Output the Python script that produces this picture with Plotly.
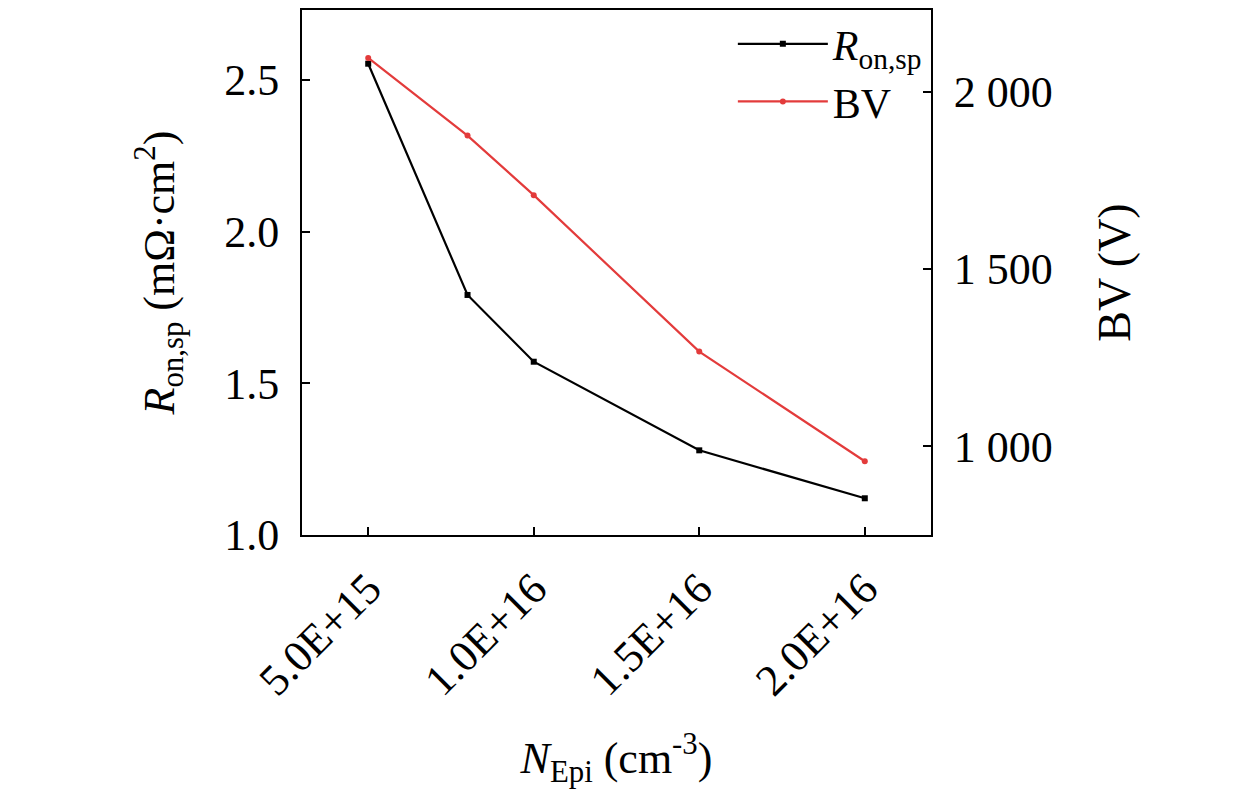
import plotly.graph_objects as go

# doping concentration of the epitaxial layer (cm^-3)
n_epi = [5.0e15, 8.0e15, 1.0e16, 1.5e16, 2.0e16]
# specific on-resistance (mOhm*cm^2)
r_on_sp = [2.553, 1.791, 1.571, 1.279, 1.121]
# breakdown voltage (V)
bv = [2095, 1876, 1708, 1267, 958]

x_ticks = [5.0e15, 1.0e16, 1.5e16, 2.0e16]
x_ticktext = ["5.0E+15", "1.0E+16", "1.5E+16", "2.0E+16"]
y2_ticks = [1000, 1500, 2000]
y2_ticktext = ["1 000", "1 500", "2 000"]

FONT = "Liberation Serif"
RED = "#e33b3b"

fig = go.Figure()
fig.add_trace(go.Scatter(
    x=n_epi, y=r_on_sp, name="<i>R</i><sub>on,sp</sub>",
    mode="lines+markers",
    line=dict(color="black", width=2.2),
    marker=dict(symbol="square", size=6, color="black"),
))
fig.add_trace(go.Scatter(
    x=n_epi, y=bv, name="BV", yaxis="y2",
    mode="lines+markers",
    line=dict(color=RED, width=2.2),
    marker=dict(symbol="circle", size=6, color=RED),
))

axis_common = dict(
    showline=True, linecolor="black", linewidth=2,
    ticks="inside", ticklen=8, tickwidth=2, tickcolor="black",
    showgrid=False, zeroline=False,
    tickfont=dict(family=FONT, size=44, color="black"),
)

fig.update_layout(
    width=1260, height=789,
    margin=dict(l=294, r=337, t=0, b=262),
    paper_bgcolor="white", plot_bgcolor="white",
    font=dict(family=FONT, size=42, color="black"),
    showlegend=True,
    legend=dict(x=0.995, y=1.0, xanchor="right", yanchor="top",
                bgcolor="rgba(0,0,0,0)", font=dict(family=FONT, size=42),
                itemwidth=90, tracegroupgap=0),
    xaxis=dict(
        range=[3.0e15, 2.2e16], tickvals=x_ticks, ticktext=x_ticktext,
        tickangle=-45, mirror=True, ticklabelstandoff=8,
        title=dict(text="<i>N</i><sub>Epi</sub> (cm<sup>-3</sup>)",
                   font=dict(family=FONT, size=44), standoff=38),
        **axis_common,
    ),
    yaxis=dict(
        range=[1.0, 2.73], tickvals=[1.0, 1.5, 2.0, 2.5],
        ticktext=["1.0", "1.5", "2.0", "2.5"], ticklabelstandoff=12,
        title=dict(text="<i>R</i><sub>on,sp</sub> (mΩ·cm<sup>2</sup>)",
                   font=dict(family=FONT, size=44), standoff=36),
        **axis_common,
    ),
    yaxis2=dict(
        range=[750, 2230], tickvals=y2_ticks, ticktext=y2_ticktext,
        overlaying="y", side="right", ticklabelstandoff=12,
        title=dict(text="BV (V)", font=dict(family=FONT, size=46), standoff=46),
        **axis_common,
    ),
)

fig.write_html("out.html")
